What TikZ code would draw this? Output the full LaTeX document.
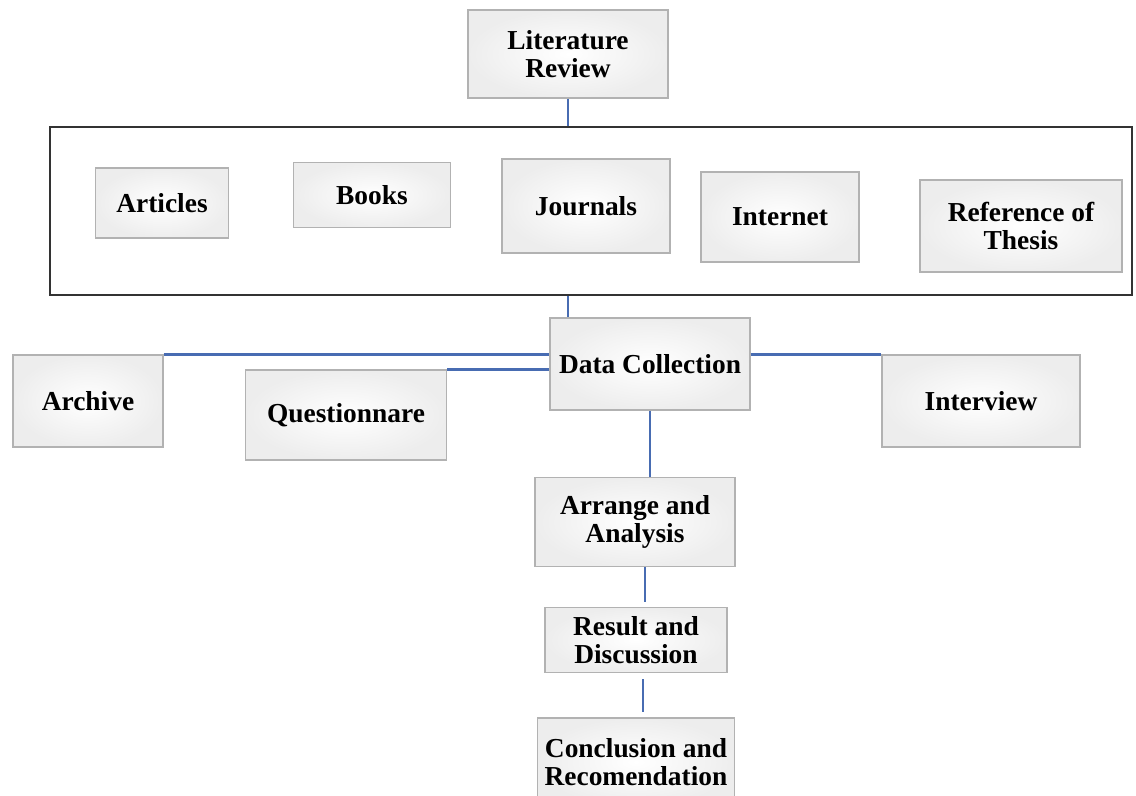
\documentclass[tikz,border=0pt]{standalone}
\usepackage{fontspec}
\setmainfont{Liberation Serif}
\usepackage{tikz}
\usetikzlibrary{positioning}
\definecolor{linkblue}{RGB}{72,108,178}
\tikzstyle{block} = [draw=gray!60, line width=0.9pt, rectangle, 
    inner color=white, outer color=gray!14, align=center, inner sep=0pt,
    font=\bfseries\fontsize{19.5}{19.5}\selectfont]
\tikzstyle{frame} = [draw=black!80, line width=1.4pt, rectangle]
\tikzstyle{link} = [draw=linkblue, line width=2.1pt]
\begin{document}
\begin{tikzpicture}
\useasboundingbox (0,0) rectangle (28.4,-19.875);
% Top block
	\node [block, minimum width=5.0cm, minimum height=2.2cm] (LR) at (14.2,-1.35) {Literature\\Review};
% Frame with the sources
	\node [frame, minimum width=27.05cm, minimum height=4.2cm] (SRC) at (14.775,-5.275) {};
	\draw [link] (LR.south) -- (LR.south |- SRC.north);
	\node [block, minimum width=3.325cm, minimum height=1.75cm] (ART) at (4.05,-5.075) {Articles};
	\node [block, minimum width=3.925cm, minimum height=1.625cm] (BOK) at (9.3,-4.875) {Books};
	\node [block, minimum width=4.2cm, minimum height=2.35cm] (JRN) at (14.65,-5.15) {Journals};
	\node [block, minimum width=3.95cm, minimum height=2.25cm] (NET) at (19.5,-5.425) {Internet};
	\node [block, minimum width=5.05cm, minimum height=2.3cm] (REF) at (25.525,-5.65) {Reference of\\Thesis};
% Data collection and its methods
	\node [block, minimum width=5.0cm, minimum height=2.3cm] (DC) at (16.25,-9.1) {Data Collection};
	\draw [link] (LR.south |- SRC.south) -- (LR.south |- DC.north);
	\node [block, minimum width=3.75cm, minimum height=2.3cm] (ARC) at (2.2,-10.025) {Archive};
	\draw [link] (ARC.north east) -- (ARC.north east -| DC.west);
	\node [block, minimum width=5.025cm, minimum height=2.25cm] (QST) at (8.65,-10.375) {Questionnare};
	\draw [link] (QST.north east) -- (QST.north east -| DC.west);
	\node [block, minimum width=4.95cm, minimum height=2.3cm] (INT) at (24.525,-10.025) {Interview};
	\draw [link] (DC.east |- INT.north west) -- (INT.north west);
% Last column
	\node [block, below of=DC, node distance=3.95cm, xshift=-0.375cm, minimum width=5.0cm, minimum height=2.225cm] (AA) {Arrange and\\Analysis};
	\draw [link] (DC.south) -- (DC.south |- AA.north);
	\node [block, below of=AA, node distance=2.95cm, xshift=0.025cm, minimum width=4.55cm, minimum height=1.625cm] (RD) {Result and\\Discussion};
	\draw [link, shorten >=0.125cm] ([xshift=0.25cm]AA.south) -- ([xshift=0.225cm]RD.north);
	\node [block, below of=RD, node distance=3.05cm, minimum width=4.925cm, minimum height=2.2cm] (CR) {Conclusion and\\Recomendation};
	\draw [link, shorten <=0.15cm, shorten >=0.125cm] ([xshift=0.175cm]RD.south) -- ([xshift=0.175cm]CR.north);
\end{tikzpicture}
\end{document}
